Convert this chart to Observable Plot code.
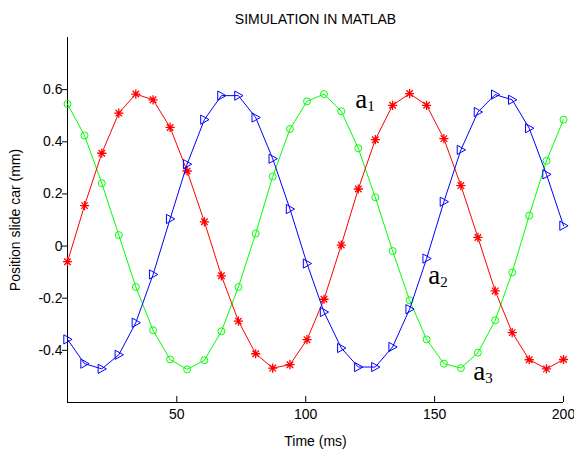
<!DOCTYPE html>
<html>
<head>
<meta charset="utf-8">
<script src="https://cdn.jsdelivr.net/npm/d3@7"></script>
<script src="https://cdn.jsdelivr.net/npm/@observablehq/plot@0.6"></script>
<style>
  html, body { margin: 0; padding: 0; background: #fff; }
  #chart svg { display: block; }
</style>
</head>
<body>
<div id="chart"></div>
<script>
// ---- data ----
const times = [7.6, 14.2, 20.9, 27.5, 34.1, 40.8, 47.4, 54.0, 60.7, 67.3, 73.9, 80.6, 87.2, 93.9, 100.5,
               107.1, 113.8, 120.4, 127.0, 133.7, 140.3, 146.9, 153.6, 160.2, 166.8, 173.5, 180.1, 186.7, 193.4, 200.0];
const redSeries = [-0.060, 0.155, 0.356, 0.510, 0.583, 0.561, 0.455, 0.288, 0.093, -0.114, -0.288, -0.413, -0.468, -0.455, -0.359,
                   -0.204, 0.004, 0.219, 0.408, 0.540, 0.585, 0.540, 0.412, 0.232, 0.033, -0.172, -0.332, -0.436, -0.471, -0.435];
const greenSeries = [0.545, 0.424, 0.241, 0.042, -0.157, -0.323, -0.435, -0.473, -0.438, -0.327, -0.157, 0.048, 0.267, 0.449, 0.555,
                     0.583, 0.517, 0.375, 0.187, -0.019, -0.208, -0.358, -0.451, -0.468, -0.409, -0.285, -0.101, 0.117, 0.327, 0.485];
const blueSeries = [-0.358, -0.451, -0.471, -0.417, -0.294, -0.109, 0.104, 0.314, 0.485, 0.577, 0.577, 0.493, 0.335, 0.142, -0.067,
                    -0.253, -0.391, -0.464, -0.464, -0.387, -0.242, -0.048, 0.170, 0.369, 0.514, 0.581, 0.561, 0.452, 0.275, 0.078];
const xTicks = [50, 100, 150, 200];
const yTicks = [-0.4, -0.2, 0, 0.2, 0.4, 0.6];
const yTickLabels = ["-0.4", "-0.2", "0", "0.2", "0.4", "0.6"];
const xDomain = [7.6, 200];
const yDomain = [-0.6, 0.8];
const labelNames = ["a", "a", "a"];
const labelSubs = ["1", "2", "3"];
const labelX = [119.2, 147.5, 165.0];
const labelY = [0.529, -0.145, -0.514];
const titleText = "SIMULATION IN MATLAB";
const xLabel = "Time (ms)";
const yLabel = "Position slide car (mm)";

// ---- tables built from arrays ----
const mk = (vals) => times.map((t, i) => ({t, v: vals[i]}));
const red = mk(redSeries), green = mk(greenSeries), blue = mk(blueSeries);
const labels = labelNames.map((n, i) => ({n, s: labelSubs[i], x: labelX[i], y: labelY[i]}));

// ---- custom marker symbols (MATLAB style) ----
const starSymbol = {
  draw(ctx, size) {
    const r = Math.sqrt(size / Math.PI);
    const d = r * Math.SQRT1_2;
    ctx.moveTo(-r, 0); ctx.lineTo(r, 0);
    ctx.moveTo(0, -r); ctx.lineTo(0, r);
    ctx.moveTo(-d, -d); ctx.lineTo(d, d);
    ctx.moveTo(-d, d); ctx.lineTo(d, -d);
  }
};
const rightTriangle = {
  draw(ctx, size) {
    const r = Math.sqrt(size / Math.PI);
    ctx.moveTo(-r * 0.8, -r);
    ctx.lineTo(r * 1.0, 0);
    ctx.lineTo(-r * 0.8, r);
    ctx.closePath();
  }
};

const font = "'Liberation Sans', Arial, Helvetica, sans-serif";
const serif = "'Liberation Serif', 'Times New Roman', serif";

const chart = Plot.plot({
  width: 574,
  height: 449,
  marginLeft: 67,
  marginRight: 11,
  marginTop: 37,
  marginBottom: 47,
  style: {fontFamily: font, fontSize: "14px", color: "#000", background: "#fff", overflow: "visible"},
  x: {domain: xDomain, label: null},
  y: {domain: yDomain, label: null},
  marks: [
    // axis lines
    Plot.ruleY([yDomain[0]], {stroke: "#000", strokeWidth: 1}),
    Plot.ruleX([xDomain[0]], {stroke: "#000", strokeWidth: 1}),
    Plot.axisX(xTicks, {tickSize: -6, tickPadding: 13, fontSize: 14, stroke: "#000", fill: "#000", label: null}),
    Plot.axisY(yTicks, {tickSize: 5, tickPadding: 0, fontSize: 14, stroke: "#000", fill: "#000", label: null,
      tickFormat: (d) => yTickLabels[yTicks.indexOf(d)]}),
    // series lines and markers
    Plot.line(green, {x: "t", y: "v", stroke: "#00ff00", strokeWidth: 1}),
    Plot.dot(green, {x: "t", y: "v", symbol: "circle", r: 3.5, stroke: "#00ff00", fill: "none", strokeWidth: 1}),
    Plot.line(red, {x: "t", y: "v", stroke: "#ff0000", strokeWidth: 1}),
    Plot.dot(red, {x: "t", y: "v", symbol: starSymbol, r: 4.6, stroke: "#ff0000", fill: "none", strokeWidth: 1.3}),
    Plot.line(blue, {x: "t", y: "v", stroke: "#0000ff", strokeWidth: 1}),
    Plot.dot(blue, {x: "t", y: "v", symbol: rightTriangle, r: 4.6, stroke: "#0000ff", fill: "none", strokeWidth: 1}),
    // annotations
    Plot.text(labels, {x: "x", y: "y", text: "n", textAnchor: "start", lineAnchor: "bottom",
      fontFamily: serif, fontSize: 27, fill: "#000"}),
    Plot.text(labels, {x: "x", y: "y", text: "s", textAnchor: "start", lineAnchor: "bottom", dx: 12, dy: 3,
      fontFamily: serif, fontSize: 15, fill: "#000"}),
    // title and axis labels
    Plot.text([titleText], {frameAnchor: "top", text: (d) => d, lineAnchor: "bottom", dy: -14,
      fontSize: 14, fill: "#000"}),
    Plot.text([xLabel], {frameAnchor: "bottom", text: (d) => d, lineAnchor: "bottom", dy: 43,
      fontSize: 14, fill: "#000"}),
    Plot.text([yLabel], {frameAnchor: "left", text: (d) => d, rotate: -90, textAnchor: "middle", lineAnchor: "top", dx: -57,
      fontSize: 14, fill: "#000"})
  ]
});
document.getElementById("chart").appendChild(chart);
</script>
</body>
</html>
